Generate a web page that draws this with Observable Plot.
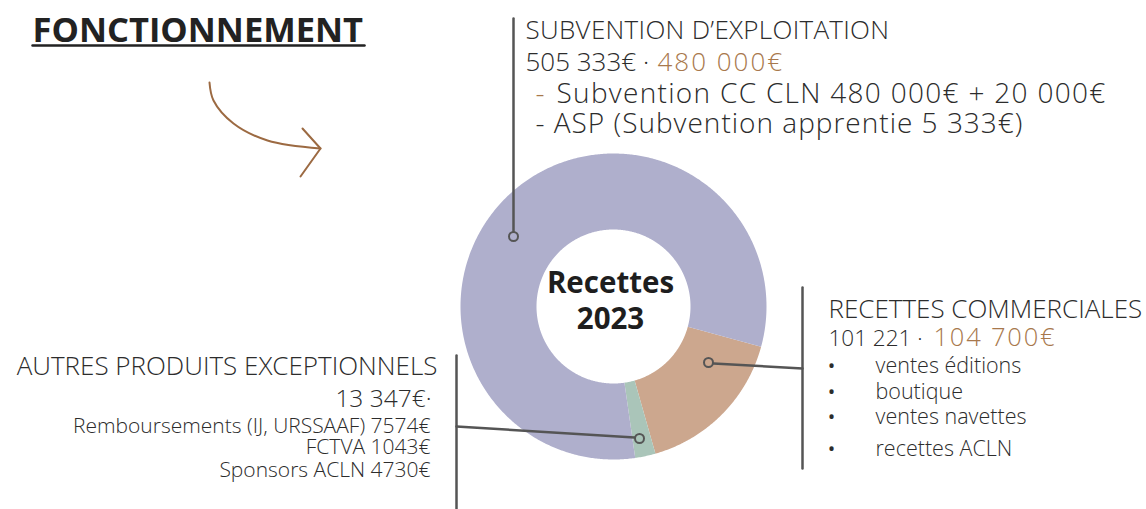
<!DOCTYPE html>
<html><head><meta charset="utf-8">
<script src="https://cdn.jsdelivr.net/npm/d3@7"></script>
<script src="https://cdn.jsdelivr.net/npm/@observablehq/plot@0.6"></script>
<style>body{margin:0;background:#fff}</style>
</head><body><div id="chart"></div>
<script>
// ---- data ----
const categories = ["Recettes commerciales", "Autres produits exceptionnels", "Subvention d’exploitation"];
const values = [101221, 13347, 505333];
const sliceColors = ["#cca78e", "#aac5b9", "#afafcc"];

const titleText = "FONCTIONNEMENT";
const centerLines = ["Recettes", "2023"];
const topLines = ["SUBVENTION D’EXPLOITATION", "505 333€ · ", "480 000€", "-", "Subvention CC CLN 480 000€ + 20 000€", "- ASP (Subvention apprentie 5 333€)"];
const rightLines = ["RECETTES COMMERCIALES", "101 221 ·", "104 700€"];
const rightBullets = ["ventes éditions", "boutique", "ventes navettes", "recettes ACLN"];
const leftLines = ["AUTRES PRODUITS EXCEPTIONNELS", "13 347€·"];
const leftDetails = ["Remboursements (IJ, URSSAAF) 7574€", "FCTVA 1043€", "Sponsors ACLN 4730€"];

// ---- layout ----
const W = 1146, H = 509;
const cx = 613, cy = 306, rOuter = 153, rInner = 77;
const startDeg = 105.3;
const dark = "#2c2c2c", brown = "#a8784c", gray = "#555555";
const font = "'Open Sans', sans-serif";

const slices = categories.map((c, i) => ({category: c, value: values[i], color: sliceColors[i]}));
const a0 = startDeg * Math.PI / 180;
const arcs = d3.pie().sort(null).value(d => d.value).startAngle(a0).endAngle(a0 + 2 * Math.PI)(slices);
const poly = [];
arcs.forEach(a => {
  const n = Math.max(8, Math.ceil((a.endAngle - a.startAngle) / (Math.PI / 360)));
  for (let i = 0; i <= n; i++) {
    const t = a.startAngle + (a.endAngle - a.startAngle) * i / n;
    poly.push({slice: a.data.category, color: a.data.color, x: cx + rOuter * Math.sin(t), y: cy - rOuter * Math.cos(t)});
  }
  for (let i = n; i >= 0; i--) {
    const t = a.startAngle + (a.endAngle - a.startAngle) * i / n;
    poly.push({slice: a.data.category, color: a.data.color, x: cx + rInner * Math.sin(t), y: cy - rInner * Math.cos(t)});
  }
});

const T = (text, x, y, o = {}) => Plot.text([{text, x, y}], {
  x: "x", y: "y", text: "text", lineAnchor: "bottom",
  textAnchor: o.anchor || "start", fontSize: o.size || 26, fontWeight: o.weight || 300,
  fill: o.color || dark, fontFamily: font
});

const connectors = [
  [{x: 513, y: 18}, {x: 513, y: 231}],
  [{x: 713, y: 363}, {x: 802, y: 368}],
  [{x: 802, y: 287}, {x: 802, y: 468}],
  [{x: 456, y: 355}, {x: 456, y: 508}],
  [{x: 456, y: 426}, {x: 634, y: 437}]
].flatMap((seg, k) => seg.map(p => ({...p, k})));
const dots = [{x: 513, y: 236}, {x: 708, y: 362}, {x: 639, y: 438}];
const arrowCurve = [{x: 209, y: 82}, {x: 213, y: 100}, {x: 233, y: 123}, {x: 267, y: 140}, {x: 320, y: 148}];
const arrowHead = [{x: 302, y: 128}, {x: 320, y: 148}, {x: 300, y: 176}];

const plot = Plot.plot({
  width: W, height: H, margin: 0,
  x: {domain: [0, W], range: [0, W], axis: null},
  y: {domain: [0, H], range: [0, H], axis: null},
  color: {type: "identity"},
  style: {background: "#fff"},
  marks: [
    Plot.line(poly, {x: "x", y: "y", z: "slice", fill: "color", stroke: "none"}),
    Plot.line(connectors, {x: "x", y: "y", z: "k", stroke: gray, strokeWidth: 2.5}),
    Plot.dot(dots, {x: "x", y: "y", r: 4.5, stroke: gray, strokeWidth: 2, fill: "none"}),
    Plot.line(arrowCurve, {x: "x", y: "y", curve: "catmull-rom", stroke: "#9c6a42", strokeWidth: 2}),
    Plot.line(arrowHead, {x: "x", y: "y", stroke: "#9c6a42", strokeWidth: 2}),
    // title
    T(titleText, 32, 41, {size: 34.5, weight: 700, color: "#222"}),
    Plot.line([{x: 32, y: 45}, {x: 364, y: 45}], {x: "x", y: "y", stroke: "#222", strokeWidth: 2.5}),
    // center
    T(centerLines[0], 610, 292, {size: 29.5, weight: 700, anchor: "middle", color: "#1e1e1e"}),
    T(centerLines[1], 610, 328, {size: 29.5, weight: 700, anchor: "middle", color: "#1e1e1e"}),
    // top block
    T(topLines[0], 525, 38, {size: 26}),
    T(topLines[1], 525, 70, {size: 26}),
    T(topLines[2], 657, 70, {size: 26, color: brown}),
    T(topLines[3], 535, 102, {size: 28, color: brown}),
    T(topLines[4], 556, 102, {size: 28}),
    T(topLines[5], 535, 132, {size: 28}),
    // right block
    T(rightLines[0], 828, 317, {size: 26}),
    T(rightLines[1], 828, 345, {size: 22.5}),
    T(rightLines[2], 933, 345, {size: 25.5, color: brown}),
    Plot.text(rightBullets, {x: 831, y: (d, i) => [372, 398, 423, 455][i], text: () => "•", lineAnchor: "bottom", fontSize: 20, fill: dark, fontFamily: font}),
    Plot.text(rightBullets, {x: 875, y: (d, i) => [372, 398, 423, 455][i], text: d => d, lineAnchor: "bottom", textAnchor: "start", fontSize: 21.5, fontWeight: 300, fill: dark, fontFamily: font}),
    // left block
    T(leftLines[0], 437, 374, {size: 26, anchor: "end"}),
    T(leftLines[1], 431, 406, {size: 24.5, anchor: "end"}),
    Plot.text(leftDetails, {x: 430, y: (d, i) => [432, 453, 476][i], text: d => d, lineAnchor: "bottom", textAnchor: "end", fontSize: 21, fontWeight: 300, fill: dark, fontFamily: font})
  ]
});
document.getElementById("chart").appendChild(plot);
const spacing = new Map([["480 000€", "2px"], ["104 700€", "1.8px"], [topLines[0], "0.3px"], [topLines[4], "1.3px"], [topLines[5], "1px"]]);
d3.select(plot).selectAll("text").each(function() {
  const s = spacing.get(this.textContent);
  if (s) this.setAttribute("letter-spacing", s);
});
</script>
</body></html>
